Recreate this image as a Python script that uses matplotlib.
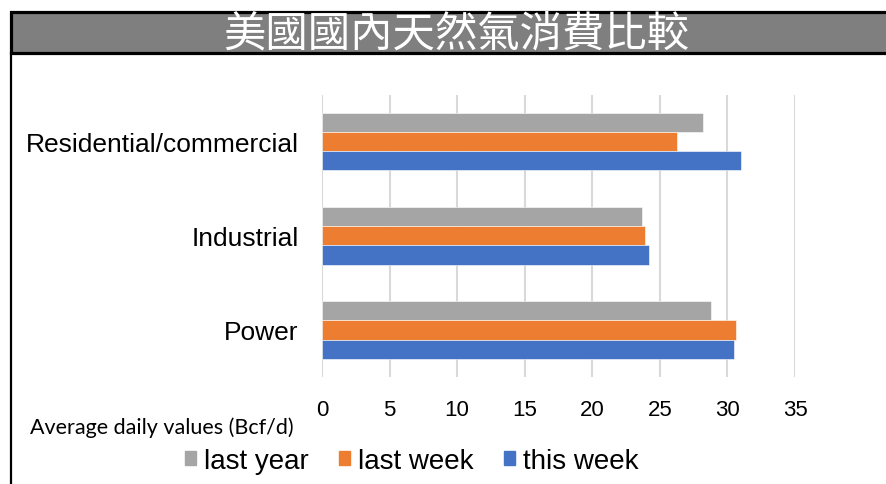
import numpy as np
import matplotlib
matplotlib.use("Agg")
from matplotlib import pyplot as plt
import matplotlib.patches as patches
from matplotlib.lines import Line2D

# data (Bcf/d)
categories = ["Power", "Industrial", "Residential/commercial"]
last_year = [28.8, 23.65, 28.2]
last_week = [30.6, 23.9, 26.3]
this_week = [30.45, 24.2, 31.0]
series_names = ["last year", "last week", "this week"]
series_colors = ["#A5A5A5", "#ED7D31", "#4472C4"]
xticks = [0, 5, 10, 15, 20, 25, 30, 35]

title = "美國國內天然氣消費比較"
unit_note = "Average daily values (Bcf/d)"

W, H = 886, 485

def fx(px):
    return px / W

def fy(py):
    # pixel row from top -> figure fraction
    return 1 - py / H


fig = plt.figure(figsize=(W / 100, H / 100), dpi=100)
fig.patch.set_facecolor("white")

# title bar and left frame line
bar = patches.Rectangle((fx(11), fy(53.5)), fx(900) - fx(11), fy(12.5) - fy(53.5),
                        transform=fig.transFigure, facecolor="#7F7F7F",
                        edgecolor="black", lw=2.3, clip_on=False)
fig.patches.append(bar)
fig.lines.append(Line2D([fx(11), fx(11)], [fy(53.5), fy(500)], transform=fig.transFigure,
                        color="black", lw=1.6))
fig.text(fx(456), fy(34), title, color="white", fontsize=30.5, ha="center", va="center",
         family=["Noto Sans CJK TC", "DejaVu Sans"], fontweight="light")

ax = fig.add_axes([fx(322), fy(378), fx(795) - fx(322), fy(95.7) - fy(378)])

y = np.arange(len(categories))
h = 0.203
vals = [last_year, last_week, this_week]
offsets = [h, 0, -h]
for v, off, c, name in zip(vals, offsets, series_colors, series_names):
    ax.barh(y + off, v, height=h, color=c, edgecolor="white", lw=0.4, label=name, zorder=3)

ax.set_xlim(0, 35)
ax.set_ylim(-0.5, 2.5)
ax.set_xticks(xticks)
ax.set_xticklabels([str(t) for t in xticks], family="Liberation Sans", fontsize=16)
ax.set_yticks(y)
ax.set_yticklabels(categories, family="Liberation Sans", fontsize=19)
ax.tick_params(axis="x", length=0, pad=15.5)
ax.tick_params(axis="y", length=0, pad=17)
ax.grid(axis="x", color="#D9D9D9", lw=1.5, zorder=0)
for s in ax.spines.values():
    s.set_visible(False)

fig.text(fx(30), fy(434), unit_note, family="Lato", fontsize=15.5, ha="left",
         va="baseline", color="black")

handles = [patches.Patch(color=c) for c in series_colors]
fig.legend(handles, series_names, loc="center", bbox_to_anchor=(fx(412), fy(462)),
           ncol=3, frameon=False, prop={"family": "Liberation Sans", "size": 20},
           handlelength=0.38, handleheight=0.38, handletextpad=0.3,
           columnspacing=1.1, borderpad=0, borderaxespad=0)

fig.savefig("out.png", dpi=100)
